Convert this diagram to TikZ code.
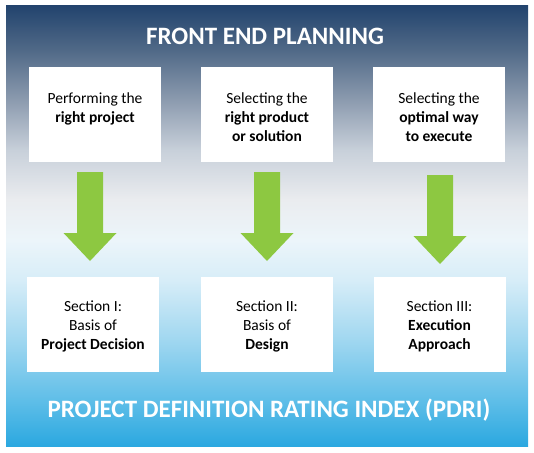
\documentclass[tikz,border=0pt]{standalone}
\usepackage{fontspec}
\setmainfont{Carlito}
\usetikzlibrary{calc}
\definecolor{bgc0}{RGB}{43,168,224}
\definecolor{bgc1}{RGB}{95,190,232}
\definecolor{bgc2}{RGB}{160,215,240}
\definecolor{bgc3}{RGB}{215,237,248}
\definecolor{bgc4}{RGB}{236,245,250}
\definecolor{bgc5}{RGB}{234,236,239}
\definecolor{bgc6}{RGB}{200,208,218}
\definecolor{bgc7}{RGB}{140,155,175}
\definecolor{bgc8}{RGB}{80,105,135}
\definecolor{bgc9}{RGB}{35,68,110}
\definecolor{arrowg}{RGB}{141,200,65}
\pgfdeclareverticalshading{fepbg}{100bp}{color(0bp)=(bgc0); color(25bp)=(bgc0); color(30.2bp)=(bgc1); color(37bp)=(bgc2); color(43.9bp)=(bgc3); color(48.4bp)=(bgc4); color(53bp)=(bgc5); color(58.6bp)=(bgc6); color(64.3bp)=(bgc7); color(70bp)=(bgc8); color(75bp)=(bgc9); color(100bp)=(bgc9)}
\tikzset{
  card/.style={fill=white, minimum width=132pt, minimum height=95pt, inner sep=0pt},
  cardtext/.style={align=center, inner sep=0pt, text=black, font=\fontsize{15.5}{19}\selectfont},
  headline/.style={text=white, inner sep=0pt, font=\bfseries\fontsize{25}{30}\selectfont},
  downarrow/.pic={\fill[arrowg] (-13,0) -- (13,0) -- (13,61) -- (26.5,61) -- (0,89) -- (-26.5,61) -- (-13,61) -- cycle;}
}
\begin{document}
\begin{tikzpicture}[x=1pt,y=-1pt]
\useasboundingbox (0,0) rectangle (534,452);
\shade[shading=fepbg] (6,6) rectangle (528,446);
\node[headline] (fep) at (265,36) {FRONT END PLANNING};
\node[headline] (pdri) at (269,410) {PROJECT DEFINITION RATING INDEX (PDRI)};
% top cards
\node[card] (t1) at (95,114.5) {};
\node[card] (t2) at (267,114.5) {};
\node[card] (t3) at (439,114.5) {};
\node[cardtext, anchor=north] (t1x) at ($(t1.north)+(0,26)$) {Performing the\\\textbf{right project}};
\node[cardtext, anchor=north] (t2x) at ($(t2.north)+(0,26)$) {Selecting the\\\textbf{right product}\\\textbf{or solution}};
\node[cardtext, anchor=north] (t3x) at ($(t3.north)+(0,26)$) {Selecting the\\\textbf{optimal way}\\\textbf{to execute}};
% bottom cards
\node[card] (b1) at (93,324.5) {};
\node[card] (b2) at (267,324.5) {};
\node[card] (b3) at (439.5,324.5) {};
\node[cardtext] (b1x) at ($(b1.center)+(0,2)$) {Section I:\\Basis of\\\textbf{Project Decision}};
\node[cardtext] (b2x) at ($(b2.center)+(0,2)$) {Section II:\\Basis of\\\textbf{Design}};
\node[cardtext] (b3x) at ($(b3.center)+(0,2)$) {Section III:\\\textbf{Execution}\\\textbf{Approach}};
% arrows
\coordinate (a1) at (90,172);
\coordinate (a2) at (267,172);
\coordinate (a3) at (440,175);
\pic at (a1) {downarrow};
\pic at (a2) {downarrow};
\pic at (a3) {downarrow};
\end{tikzpicture}
\end{document}
